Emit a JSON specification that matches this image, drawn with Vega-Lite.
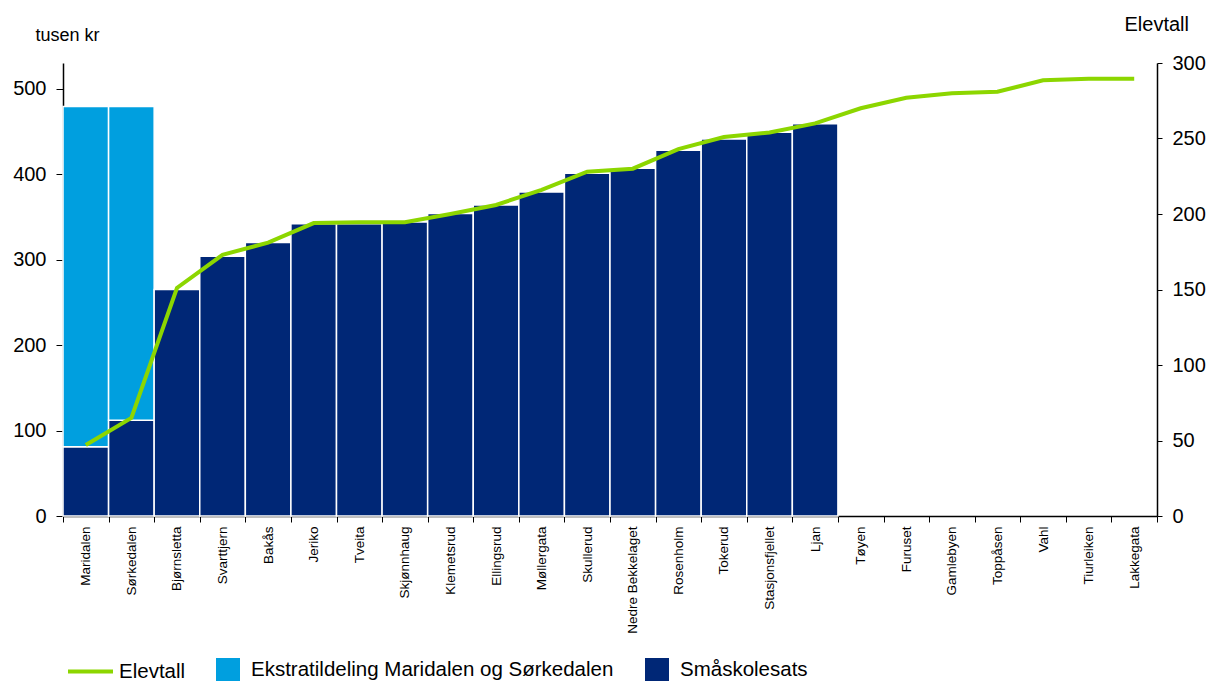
{
  "$schema": "https://vega.github.io/schema/vega-lite/v6.json",
  "width": 1094,
  "height": 453,
  "autosize": {"type": "none"},
  "padding": {"left": 63, "top": 63, "right": 53, "bottom": 165},
  "background": "white",
  "config": {
    "font": "Liberation Sans",
    "view": {"stroke": null},
    "axis": {"domainColor": "#000000", "tickColor": "#000000", "labelColor": "#000000", "titleColor": "#000000", "grid": false, "titleFontWeight": "normal", "zindex": 1}
  },
  "datasets": {
    "bars": [
      {"skole": "Maridalen", "type": "Småskolesats", "tusen_kr": 81},
      {"skole": "Maridalen", "type": "Ekstratildeling Maridalen og Sørkedalen", "tusen_kr": 398},
      {"skole": "Sørkedalen", "type": "Småskolesats", "tusen_kr": 112},
      {"skole": "Sørkedalen", "type": "Ekstratildeling Maridalen og Sørkedalen", "tusen_kr": 367},
      {"skole": "Bjørnsletta", "type": "Småskolesats", "tusen_kr": 265},
      {"skole": "Svarttjern", "type": "Småskolesats", "tusen_kr": 304},
      {"skole": "Bakås", "type": "Småskolesats", "tusen_kr": 320},
      {"skole": "Jeriko", "type": "Småskolesats", "tusen_kr": 342},
      {"skole": "Tveita", "type": "Småskolesats", "tusen_kr": 342},
      {"skole": "Skjønnhaug", "type": "Småskolesats", "tusen_kr": 344},
      {"skole": "Klemetsrud", "type": "Småskolesats", "tusen_kr": 354},
      {"skole": "Ellingsrud", "type": "Småskolesats", "tusen_kr": 364},
      {"skole": "Møllergata", "type": "Småskolesats", "tusen_kr": 379},
      {"skole": "Skullerud", "type": "Småskolesats", "tusen_kr": 401},
      {"skole": "Nedre  Bekkelaget", "type": "Småskolesats", "tusen_kr": 407},
      {"skole": "Rosenholm", "type": "Småskolesats", "tusen_kr": 428},
      {"skole": "Tokerud", "type": "Småskolesats", "tusen_kr": 441},
      {"skole": "Stasjonsfjellet", "type": "Småskolesats", "tusen_kr": 449},
      {"skole": "Ljan", "type": "Småskolesats", "tusen_kr": 459}
    ],
    "elev": [
      {"skole": "Maridalen", "elevtall": 47},
      {"skole": "Sørkedalen", "elevtall": 65},
      {"skole": "Bjørnsletta", "elevtall": 151},
      {"skole": "Svarttjern", "elevtall": 173},
      {"skole": "Bakås", "elevtall": 181},
      {"skole": "Jeriko", "elevtall": 194},
      {"skole": "Tveita", "elevtall": 194.5},
      {"skole": "Skjønnhaug", "elevtall": 194.5},
      {"skole": "Klemetsrud", "elevtall": 200},
      {"skole": "Ellingsrud", "elevtall": 206},
      {"skole": "Møllergata", "elevtall": 216},
      {"skole": "Skullerud", "elevtall": 228},
      {"skole": "Nedre  Bekkelaget", "elevtall": 230},
      {"skole": "Rosenholm", "elevtall": 243},
      {"skole": "Tokerud", "elevtall": 251},
      {"skole": "Stasjonsfjellet", "elevtall": 254},
      {"skole": "Ljan", "elevtall": 260},
      {"skole": "Tøyen", "elevtall": 270},
      {"skole": "Furuset", "elevtall": 277},
      {"skole": "Gamlebyen", "elevtall": 280},
      {"skole": "Toppåsen", "elevtall": 281},
      {"skole": "Vahl", "elevtall": 288.5},
      {"skole": "Tiurleiken", "elevtall": 289.5},
      {"skole": "Lakkegata", "elevtall": 289.5}
    ]
  },
  "encoding": {
    "x": {
      "field": "skole",
      "type": "nominal",
      "sort": null,
      "scale": {
        "domain": ["Maridalen", "Sørkedalen", "Bjørnsletta", "Svarttjern", "Bakås", "Jeriko", "Tveita", "Skjønnhaug", "Klemetsrud", "Ellingsrud", "Møllergata", "Skullerud", "Nedre  Bekkelaget", "Rosenholm", "Tokerud", "Stasjonsfjellet", "Ljan", "Tøyen", "Furuset", "Gamlebyen", "Toppåsen", "Vahl", "Tiurleiken", "Lakkegata"],
        "paddingInner": 0,
        "paddingOuter": 0
      },
      "axis": {
        "title": null,
        "labelAngle": -90,
        "labelAlign": "right",
        "labelBaseline": "middle",
        "labelFontSize": 13.5,
        "labelPadding": 4,
        "tickBand": "extent",
        "tickSize": 6,
        "domainWidth": 1.5
      }
    }
  },
  "layer": [
    {
      "data": {"name": "bars"},
      "mark": {"type": "bar", "stroke": "white", "strokeWidth": 1.5},
      "encoding": {
        "y": {
          "field": "tusen_kr",
          "type": "quantitative",
          "stack": "zero",
          "scale": {"domain": [0, 530], "nice": false},
          "axis": {
            "orient": "left",
            "values": [0, 100, 200, 300, 400, 500],
            "labelFontSize": 20,
            "labelPadding": 10,
            "tickSize": 7,
            "domainWidth": 1.5,
            "title": "tusen kr",
            "titleFontSize": 18,
            "titleAngle": 0,
            "titleAlign": "left",
            "titleBaseline": "middle",
            "titleX": -28,
            "titleY": -28
          }
        },
        "fill": {
          "field": "type",
          "type": "nominal",
          "scale": {
            "domain": ["Ekstratildeling Maridalen og Sørkedalen", "Småskolesats"],
            "range": ["#009FDF", "#002776"]
          },
          "legend": {
            "title": null,
            "orient": "none",
            "direction": "horizontal",
            "legendX": 153,
            "legendY": 595,
            "symbolType": "square",
            "symbolSize": 576,
            "symbolStrokeWidth": 0,
            "labelFontSize": 20.5,
            "labelColor": "#000000",
            "labelLimit": 500,
            "labelOffset": 11,
            "columnPadding": 31
          }
        },
        "order": {"field": "type", "sort": "descending"}
      }
    },
    {
      "data": {"name": "elev"},
      "mark": {"type": "line", "strokeWidth": 4},
      "encoding": {
        "y": {
          "field": "elevtall",
          "type": "quantitative",
          "scale": {"domain": [0, 300], "nice": false},
          "axis": {
            "orient": "right",
            "values": [0, 50, 100, 150, 200, 250, 300],
            "labelFontSize": 20,
            "labelPadding": 10,
            "tickSize": 5,
            "domainWidth": 1.5,
            "title": "Elevtall",
            "titleFontSize": 20,
            "titleAngle": 0,
            "titleAlign": "left",
            "titleBaseline": "middle",
            "titleX": -33,
            "titleY": -39
          }
        },
        "stroke": {
          "datum": "Elevtall",
          "type": "nominal",
          "scale": {"domain": ["Elevtall"], "range": ["#8CD600"]},
          "legend": {
            "title": null,
            "orient": "none",
            "legendX": 3,
            "legendY": 584,
            "symbolType": "stroke",
            "symbolSize": 2025,
            "symbolStrokeWidth": 4,
            "labelFontSize": 20.5,
            "labelColor": "#000000",
            "labelOffset": 4
          }
        }
      }
    }
  ],
  "resolve": {"scale": {"y": "independent"}, "axis": {"y": "independent"}}
}
